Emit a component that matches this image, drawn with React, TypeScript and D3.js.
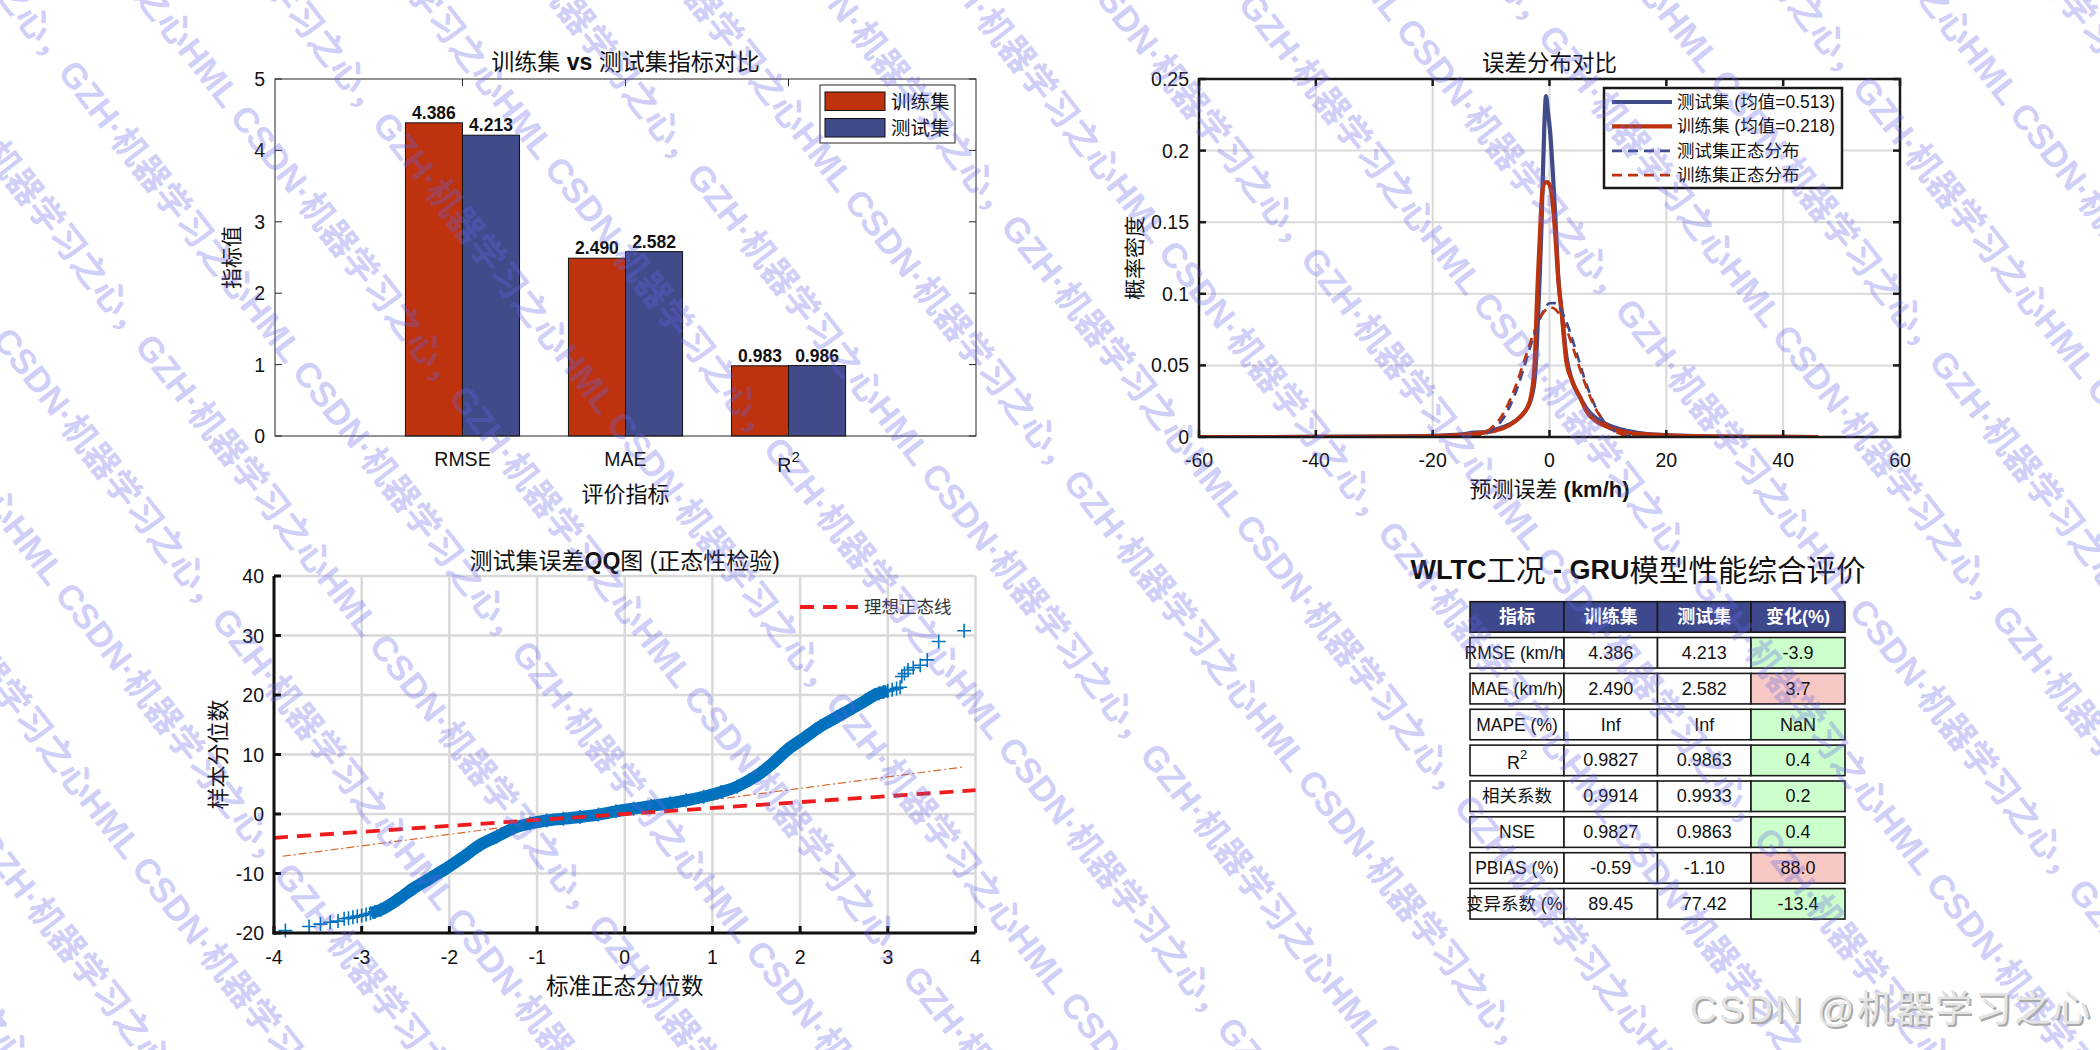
import React from 'react';
import * as d3 from 'd3';

const W = 2100;
const H = 1050;
const LATIN = "'Liberation Sans', Arial, Helvetica, sans-serif";
const MIX = "'Liberation Sans', 'Noto Sans CJK SC', sans-serif";
const RED = '#BE330E';
const NAVY = '#414B8A';
const QQBLUE = '#0072BD';
const GRID = '#d9d9d9';
const AX = '#262626';

// ---------- bar chart data ----------
const metricNames = ['RMSE', 'MAE', 'R2'];
const trainValues = [4.386, 2.49, 0.983];
const testValues = [4.213, 2.582, 0.986];
const barYTicks = [0, 1, 2, 3, 4, 5];
const barLegend = ['训练集', '测试集'];

// ---------- density chart data ----------
const kdeTest: [number, number][] = [
  [-60, 0], [-50, 0], [-40, 0.0001], [-30, 0.0003], [-20, 0.0008], [-15, 0.0018], [-13, 0.003], [-11, 0.0035],
  [-9, 0.0055], [-7, 0.0085], [-5, 0.014], [-4, 0.019], [-3.2, 0.026], [-2.5, 0.042], [-2.1, 0.07], [-1.7, 0.11],
  [-1.35, 0.15], [-1.16, 0.179], [-0.9, 0.215], [-0.6, 0.238], [-0.3, 0.228], [0.09, 0.214], [0.65, 0.179],
  [1.1, 0.145], [1.5, 0.112], [2.1, 0.087], [2.9, 0.056], [3.8, 0.04], [5.2, 0.028], [6.5, 0.019], [8, 0.013],
  [10, 0.0085], [12, 0.0055], [15, 0.003], [20, 0.0013], [25, 0.0007], [30, 0.0003], [40, 0.0001], [46, 0],
];
const kdeTrain: [number, number][] = [
  [-60, 0], [-50, 0], [-40, 0.0001], [-30, 0.0002], [-20, 0.0006], [-15, 0.0015], [-12, 0.0027], [-10, 0.0038],
  [-8, 0.006], [-6, 0.0105], [-5, 0.0142], [-4, 0.019], [-3.3, 0.026], [-2.9, 0.035], [-2.65, 0.045], [-2.4, 0.065],
  [-2.2, 0.09], [-2.0, 0.11], [-1.6, 0.145], [-1.3, 0.168], [-0.9, 0.177], [-0.4, 0.178], [0.1, 0.175], [0.5, 0.165],
  [0.9, 0.146], [1.5, 0.11], [2.1, 0.086], [2.9, 0.052], [3.8, 0.04], [5.2, 0.028], [6.4, 0.0175], [8, 0.011],
  [9.8, 0.0072], [12.6, 0.0037], [16, 0.002], [20, 0.0012], [25, 0.0006], [30, 0.0003], [40, 0.0001], [46, 0],
];
const normTest: [number, number][] = [
  [-60, 0], [-20, 0], [-16, 0.0001], [-14, 0.0003], [-12, 0.0012], [-10, 0.0044], [-8, 0.0125], [-6, 0.0289],
  [-4, 0.0534], [-3, 0.0668], [-2, 0.0789], [-1, 0.0883], [0, 0.0934], [1, 0.0935], [2, 0.0885], [3, 0.0792],
  [4, 0.0671], [5, 0.0538], [6, 0.0407], [8, 0.0198], [10, 0.0077], [12, 0.0024], [14, 0.0006], [16, 0.0001],
  [20, 0], [46, 0],
];
const normTrain: [number, number][] = [
  [-60, 0], [-20, 0], [-16, 0.0001], [-14, 0.0005], [-12, 0.0019], [-10, 0.0061], [-8, 0.0158], [-6, 0.0334],
  [-5, 0.0449], [-4, 0.0572], [-3, 0.0694], [-2, 0.0799], [-1, 0.0872], [0, 0.0906], [1, 0.0892], [2, 0.0835],
  [3, 0.0742], [4, 0.0627], [5, 0.0502], [6, 0.0382], [8, 0.019], [10, 0.0077], [12, 0.0025], [14, 0.0007],
  [16, 0.0001], [20, 0], [46, 0],
];
const densityXTicks = [-60, -40, -20, 0, 20, 40, 60];
const densityYTicks = [0, 0.05, 0.1, 0.15, 0.2, 0.25];
const densityLegend = ['测试集 (均值=0.513)', '训练集 (均值=0.218)', '测试集正态分布', '训练集正态分布'];

// ---------- QQ plot data ----------
const qqTailLow: [number, number][] = [
  [-3.87, -19.6], [-3.6, -18.9], [-3.47, -18.5], [-3.36, -18.2], [-3.27, -18.0],
];
const qqBand: [number, number][] = [
  [-3.2, -17.6], [-3.15, -17.5], [-3.1, -17.35], [-3.05, -17.2], [-3.0, -17.05], [-2.95, -16.9], [-2.9, -16.7],
  [-2.85, -16.45], [-2.78, -16.1], [-2.6, -14.5], [-2.41, -12.5], [-2.22, -10.8], [-2.03, -9.1], [-1.84, -7.2],
  [-1.65, -5.2], [-1.46, -3.8], [-1.27, -2.4], [-1.08, -1.6], [-0.89, -1.1], [-0.7, -0.8], [-0.51, -0.5],
  [-0.3, -0.1], [-0.1, 0.45], [0.1, 0.9], [0.3, 1.35], [0.52, 1.8], [0.7, 2.3], [0.9, 2.9], [1.1, 3.7],
  [1.28, 4.6], [1.42, 5.7], [1.54, 6.8], [1.7, 8.7], [1.85, 10.75], [2.04, 12.7], [2.23, 14.7], [2.42, 16.3],
  [2.6, 17.8], [2.75, 19.1], [2.85, 20.0], [2.9, 20.3], [2.95, 20.5], [3.0, 20.7], [3.05, 20.9], [3.1, 21.1],
  [3.14, 21.3],
];
const qqTailHigh: [number, number][] = [
  [3.16, 23.1], [3.19, 23.6], [3.23, 24.2], [3.29, 24.6], [3.37, 25.0], [3.45, 25.9], [3.58, 29.0], [3.87, 30.8],
];
const qqRefLine: [number, number][] = [[-3.9, -7.1], [3.86, 7.9]];
const qqIdealLine: [number, number][] = [[-4, -4], [4, 4]];
const qqXTicks = [-4, -3, -2, -1, 0, 1, 2, 3, 4];
const qqYTicks = [-20, -10, 0, 10, 20, 30, 40];

// ---------- table data ----------
const tableHeader = ['指标', '训练集', '测试集', '变化(%)'];
const tableMetrics = ['RMSE (km/h)', 'MAE (km/h)', 'MAPE (%)', 'R2', '相关系数', 'NSE', 'PBIAS (%)', '变异系数 (%)'];
const tableTrain = ['4.386', '2.490', 'Inf', '0.9827', '0.9914', '0.9827', '-0.59', '89.45'];
const tableTest = ['4.213', '2.582', 'Inf', '0.9863', '0.9933', '0.9863', '-1.10', '77.42'];
const tableChange = ['-3.9', '3.7', 'NaN', '0.4', '0.2', '0.4', '88.0', '-13.4'];
const tableWorse = [false, true, false, false, false, false, true, false];

const watermarkText = 'CSDN·机器学习之心，GZH·机器学习之心HML ';

function BarChart() {
  const x = d3.scaleLinear().domain([-0.15, 4.15]).range([275, 976]);
  const y = d3.scaleLinear().domain([0, 5]).range([436, 79]);
  const [x0, x1] = x.range();
  const [y0, y1] = y.range();
  const bw = 0.35;
  return (
    <g>
      <text x={(x0 + x1) / 2} y={62} textAnchor="middle" dominantBaseline="central" fontSize={23} fontFamily={MIX} fill="#111">
        训练集 <tspan fontWeight="bold">vs</tspan> 测试集指标对比
      </text>
      {metricNames.map((m, i) => {
        const c = i + 1;
        return (
          <g key={m}>
            <rect x={x(c - bw)} y={y(trainValues[i])} width={x(c) - x(c - bw)} height={y(0) - y(trainValues[i])} fill={RED} stroke="#111" strokeWidth={1} />
            <rect x={x(c)} y={y(testValues[i])} width={x(c + bw) - x(c)} height={y(0) - y(testValues[i])} fill={NAVY} stroke="#111" strokeWidth={1} />
            <text x={x(c - bw / 2)} y={y(trainValues[i]) - 4} textAnchor="middle" fontSize={17.5} fontWeight="bold" fontFamily={LATIN} fill="#111">
              {trainValues[i].toFixed(3)}
            </text>
            <text x={x(c + bw / 2)} y={y(testValues[i]) - 4} textAnchor="middle" fontSize={17.5} fontWeight="bold" fontFamily={LATIN} fill="#111">
              {testValues[i].toFixed(3)}
            </text>
          </g>
        );
      })}
      <rect x={x0} y={y1} width={x1 - x0} height={y0 - y1} fill="none" stroke={AX} strokeWidth={1} />
      {barYTicks.map((t) => (
        <g key={t}>
          <line x1={x0} x2={x0 + 7} y1={y(t)} y2={y(t)} stroke={AX} />
          <line x1={x1} x2={x1 - 7} y1={y(t)} y2={y(t)} stroke={AX} />
          <text x={x0 - 10} y={y(t)} textAnchor="end" dominantBaseline="central" fontSize={19.5} fontFamily={LATIN} fill="#111">
            {t}
          </text>
        </g>
      ))}
      {metricNames.map((m, i) => (
        <g key={m}>
          <line x1={x(i + 1)} x2={x(i + 1)} y1={y1} y2={y1 + 7} stroke={AX} />
          <line x1={x(i + 1)} x2={x(i + 1)} y1={y0} y2={y0 - 7} stroke={AX} />
          {m === 'R2' ? (
            <text x={x(i + 1)} y={465} textAnchor="middle" dominantBaseline="central" fontSize={19.5} fontFamily={LATIN} fill="#111">
              R<tspan dy={-9} fontSize={15}>2</tspan>
            </text>
          ) : (
            <text x={x(i + 1)} y={459} textAnchor="middle" dominantBaseline="central" fontSize={19.5} fontFamily={LATIN} fill="#111">
              {m}
            </text>
          )}
        </g>
      ))}
      <text x={(x0 + x1) / 2} y={494} textAnchor="middle" dominantBaseline="central" fontSize={22} fontFamily={MIX} fill="#111">
        评价指标
      </text>
      <text transform={`translate(231,${(y0 + y1) / 2}) rotate(-90)`} textAnchor="middle" dominantBaseline="central" fontSize={21} fontFamily={MIX} fill="#111">
        指标值
      </text>
      <rect x={820} y={85} width={135} height={58} fill="#fff" stroke={AX} strokeWidth={1} />
      {barLegend.map((s, i) => (
        <g key={s}>
          <rect x={825} y={92 + i * 26.5} width={60} height={18.5} fill={i === 0 ? RED : NAVY} stroke="#111" />
          <text x={891} y={101.5 + i * 26.5} dominantBaseline="central" fontSize={19.5} fontFamily={MIX} fill="#111">
            {s}
          </text>
        </g>
      ))}
    </g>
  );
}

function DensityChart() {
  const x = d3.scaleLinear().domain([-60, 60]).range([1199, 1900]);
  const y = d3.scaleLinear().domain([0, 0.25]).range([437, 79]);
  const [x0, x1] = x.range();
  const [y0, y1] = y.range();
  const line = d3
    .line<[number, number]>()
    .x((d) => x(d[0]))
    .y((d) => y(d[1]))
    .curve(d3.curveMonotoneX);
  const series = [
    { d: kdeTest, color: NAVY, w: 4.2, dash: undefined },
    { d: kdeTrain, color: RED, w: 4.2, dash: undefined },
    { d: normTest, color: NAVY, w: 2.7, dash: '10,6' },
    { d: normTrain, color: RED, w: 2.7, dash: '10,6' },
  ];
  return (
    <g>
      <defs>
        <clipPath id="dclip">
          <rect x={x0} y={y1} width={x1 - x0} height={y0 - y1} />
        </clipPath>
      </defs>
      <text x={(x0 + x1) / 2} y={63} textAnchor="middle" dominantBaseline="central" fontSize={22.5} fontFamily={MIX} fill="#111">
        误差分布对比
      </text>
      {densityXTicks.slice(1, -1).map((t) => (
        <line key={'gx' + t} x1={x(t)} x2={x(t)} y1={y1} y2={y0} stroke={GRID} strokeWidth={2} />
      ))}
      {densityYTicks.slice(1, -1).map((t) => (
        <line key={'gy' + t} x1={x0} x2={x1} y1={y(t)} y2={y(t)} stroke={GRID} strokeWidth={2} />
      ))}
      <g clipPath="url(#dclip)">
        {series.map((s, i) => (
          <path key={i} d={line(s.d) || ''} fill="none" stroke={s.color} strokeWidth={s.w} strokeDasharray={s.dash} strokeLinejoin="round" />
        ))}
      </g>
      <rect x={x0} y={y1} width={x1 - x0} height={y0 - y1} fill="none" stroke="#1a1a1a" strokeWidth={2.5} />
      {densityXTicks.map((t) => (
        <g key={'tx' + t}>
          <line x1={x(t)} x2={x(t)} y1={y0} y2={y0 - 7} stroke="#1a1a1a" strokeWidth={2.5} />
          <line x1={x(t)} x2={x(t)} y1={y1} y2={y1 + 7} stroke="#1a1a1a" strokeWidth={2.5} />
          <text x={x(t)} y={460} textAnchor="middle" dominantBaseline="central" fontSize={19.5} fontFamily={LATIN} fill="#111">
            {t}
          </text>
        </g>
      ))}
      {densityYTicks.map((t) => (
        <g key={'ty' + t}>
          <line x1={x0} x2={x0 + 7} y1={y(t)} y2={y(t)} stroke="#1a1a1a" strokeWidth={2.5} />
          <line x1={x1} x2={x1 - 7} y1={y(t)} y2={y(t)} stroke="#1a1a1a" strokeWidth={2.5} />
          <text x={x0 - 10} y={y(t)} textAnchor="end" dominantBaseline="central" fontSize={19.5} fontFamily={LATIN} fill="#111">
            {String(t)}
          </text>
        </g>
      ))}
      <text x={(x0 + x1) / 2} y={489} textAnchor="middle" dominantBaseline="central" fontSize={22} fontFamily={MIX} fill="#111">
        预测误差 <tspan fontWeight="bold">(km/h)</tspan>
      </text>
      <text transform={`translate(1134,${(y0 + y1) / 2}) rotate(-90)`} textAnchor="middle" dominantBaseline="central" fontSize={21} fontFamily={MIX} fill="#111">
        概率密度
      </text>
      <rect x={1604} y={88} width={238} height={100} fill="#fff" stroke="#1a1a1a" strokeWidth={2.5} />
      {densityLegend.map((s, i) => (
        <g key={s}>
          <line x1={1612} x2={1672} y1={102 + i * 24.4} y2={102 + i * 24.4} stroke={series[i].color} strokeWidth={series[i].w} strokeDasharray={series[i].dash} />
          <text x={1677} y={102 + i * 24.4} dominantBaseline="central" fontSize={17.5} fontFamily={MIX} fill="#111">
            {s}
          </text>
        </g>
      ))}
    </g>
  );
}

function QQChart() {
  const x = d3.scaleLinear().domain([-4, 4]).range([274, 975.5]);
  const y = d3.scaleLinear().domain([-20, 40]).range([933, 576]);
  const [x0, x1] = x.range();
  const [y0, y1] = y.range();
  const line = d3
    .line<[number, number]>()
    .x((d) => x(d[0]))
    .y((d) => y(d[1]))
    .curve(d3.curveMonotoneX);
  const straight = d3
    .line<[number, number]>()
    .x((d) => x(d[0]))
    .y((d) => y(d[1]));
  const markers = [...qqTailLow, ...qqBand, ...qqTailHigh];
  const bandMain = qqBand.filter((d) => d[0] >= -2.9 && d[0] <= 3.0);
  return (
    <g>
      <text x={(x0 + x1) / 2} y={561} textAnchor="middle" dominantBaseline="central" fontSize={23} fontFamily={MIX} fill="#111">
        测试集误差<tspan fontWeight="bold">QQ</tspan>图 (正态性检验)
      </text>
      {qqXTicks.map((t) => (
        <line key={'gx' + t} x1={x(t)} x2={x(t)} y1={y1} y2={y0} stroke={GRID} strokeWidth={2.5} />
      ))}
      {qqYTicks.map((t) => (
        <line key={'gy' + t} x1={x0} x2={x1} y1={y(t)} y2={y(t)} stroke={GRID} strokeWidth={2.5} />
      ))}
      <path d={straight(qqRefLine) || ''} fill="none" stroke="#D9692A" strokeWidth={1.2} strokeDasharray="8,3,2,3" />
      <path d={line(bandMain) || ''} fill="none" stroke={QQBLUE} strokeWidth={12} strokeLinejoin="round" />
      {markers.map((d, i) => (
        <path key={i} transform={`translate(${x(d[0])},${y(d[1])})`} d="M-7,0H7M0,-7V7" stroke={QQBLUE} strokeWidth={1.6} fill="none" />
      ))}
      <path d={straight(qqIdealLine) || ''} fill="none" stroke="#EE1C1C" strokeWidth={3.8} strokeDasharray="14,9" />
      <line x1={x0} x2={x0} y1={y1} y2={y0 + 1.5} stroke="#111" strokeWidth={3} />
      <line x1={x0 - 1.5} x2={x1} y1={y0} y2={y0} stroke="#111" strokeWidth={3} />
      {qqXTicks.map((t) => (
        <g key={'tx' + t}>
          <line x1={x(t)} x2={x(t)} y1={y0} y2={y0 - 7} stroke="#111" strokeWidth={3} />
          <text x={x(t)} y={957} textAnchor="middle" dominantBaseline="central" fontSize={19.5} fontFamily={LATIN} fill="#111">
            {t}
          </text>
        </g>
      ))}
      {qqYTicks.map((t) => (
        <g key={'ty' + t}>
          <line x1={x0} x2={x0 + 7} y1={y(t)} y2={y(t)} stroke="#111" strokeWidth={3} />
          <text x={x0 - 10} y={y(t)} textAnchor="end" dominantBaseline="central" fontSize={19.5} fontFamily={LATIN} fill="#111">
            {t}
          </text>
        </g>
      ))}
      <text x={(x0 + x1) / 2} y={986} textAnchor="middle" dominantBaseline="central" fontSize={22.5} fontFamily={MIX} fill="#111">
        标准正态分位数
      </text>
      <text transform={`translate(218,${(y0 + y1) / 2}) rotate(-90)`} textAnchor="middle" dominantBaseline="central" fontSize={22} fontFamily={MIX} fill="#111">
        样本分位数
      </text>
      <line x1={800} x2={858} y1={607} y2={607} stroke="#EE1C1C" strokeWidth={3.8} strokeDasharray="14,9" />
      <text x={864} y={607} dominantBaseline="central" fontSize={17.5} fontFamily={MIX} fill="#333">
        理想正态线
      </text>
    </g>
  );
}

function MetricsTable() {
  const colX = [1470, 1564, 1657.5, 1751, 1845];
  const rowTop = (i: number) => 601.7 + i * 35.86;
  const rowH = 30.5;
  const cx = (c: number) => (colX[c] + colX[c + 1]) / 2;
  const label = (s: string, xx: number, yy: number) =>
    s === 'R2' ? (
      <text x={xx} y={yy + 3} textAnchor="middle" dominantBaseline="central" fontSize={18} fontFamily={MIX} fill="#111">
        R<tspan dy={-9} fontSize={13}>2</tspan>
      </text>
    ) : (
      <text x={xx} y={yy} textAnchor="middle" dominantBaseline="central" fontSize={17.5} fontFamily={MIX} fill="#111">
        {s}
      </text>
    );
  return (
    <g>
      <text x={1638} y={570} textAnchor="middle" dominantBaseline="central" fontFamily={MIX} fill="#111">
        <tspan fontWeight="bold" fontSize={27}>WLTC</tspan>
        <tspan fontSize={29.5}>工况</tspan>
        <tspan fontWeight="bold" fontSize={27}> - GRU</tspan>
        <tspan fontSize={29.5}>模型性能综合评价</tspan>
      </text>
      {tableHeader.map((h, c) => (
        <g key={h}>
          <rect x={colX[c]} y={rowTop(0)} width={colX[c + 1] - colX[c]} height={rowH} fill="#3E488C" stroke="#1a1a1a" strokeWidth={1.6} />
          <text x={cx(c)} y={rowTop(0) + rowH / 2} textAnchor="middle" dominantBaseline="central" fontSize={18} fontWeight="bold" fontFamily={MIX} fill="#fff">
            {h}
          </text>
        </g>
      ))}
      {tableMetrics.map((m, r) => {
        const top = rowTop(r + 1);
        const mid = top + rowH / 2;
        const vals = [tableTrain[r], tableTest[r], tableChange[r]];
        return (
          <g key={m}>
            <rect x={colX[0]} y={top} width={colX[1] - colX[0]} height={rowH} fill="#fff" />
            {label(m, cx(0), mid)}
            <rect x={colX[0]} y={top} width={colX[1] - colX[0]} height={rowH} fill="none" stroke="#1a1a1a" strokeWidth={1.6} />
            {vals.map((v, k) => (
              <g key={k}>
                <rect
                  x={colX[k + 1]}
                  y={top}
                  width={colX[k + 2] - colX[k + 1]}
                  height={rowH}
                  fill={k < 2 ? '#fff' : tableWorse[r] ? '#F8C8C4' : '#CCFFCC'}
                  stroke="#1a1a1a"
                  strokeWidth={1.6}
                />
                <text x={cx(k + 1)} y={mid} textAnchor="middle" dominantBaseline="central" fontSize={18} fontFamily={LATIN} fill="#111">
                  {v}
                </text>
              </g>
            ))}
          </g>
        );
      })}
    </g>
  );
}

function Watermark() {
  const rows = d3.range(-15, 7);
  const repeated = watermarkText.repeat(5);
  return (
    <g transform="rotate(52)" fill="rgb(100,100,235)" opacity={0.3} fontSize={35} fontWeight="bold" fontFamily={MIX} pointerEvents="none">
      {rows.map((k) => (
        <text key={k} x={-1000 + ((((k * 263) % 760) + 760) % 760)} y={k * 108}>
          {repeated}
        </text>
      ))}
    </g>
  );
}

function Signature() {
  return (
    <g fontFamily={MIX} fontSize={37}>
      <text x={1692} y={1024} textLength={400} lengthAdjust="spacing" fill="#a9a9a9">
        CSDN @机器学习之心
      </text>
      <text x={1690} y={1022} textLength={400} lengthAdjust="spacing" fill="#e4e4e4">
        CSDN @机器学习之心
      </text>
    </g>
  );
}

export default function App() {
  return (
    <svg
      width={W}
      height={H}
      viewBox={`0 0 ${W} ${H}`}
      style={{ position: 'absolute', left: 0, top: 0, display: 'block', background: '#fff' }}
      fontFamily={LATIN}
    >
      <rect x={0} y={0} width={W} height={H} fill="#fff" />
      <BarChart />
      <DensityChart />
      <QQChart />
      <MetricsTable />
      <Watermark />
      <Signature />
    </svg>
  );
}
